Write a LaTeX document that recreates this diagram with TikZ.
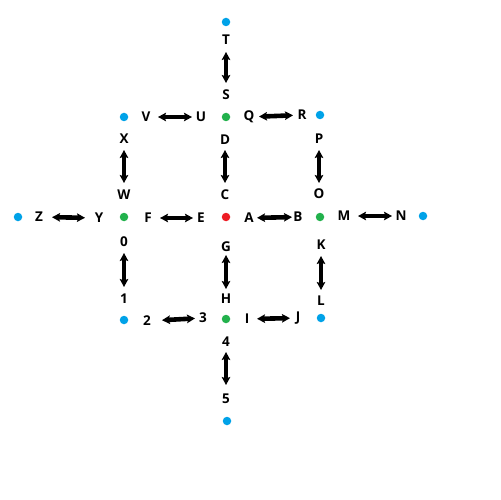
\documentclass[tikz,border=0pt]{standalone}
\usepackage{fontspec}
\setmainfont{Open Sans}
\usetikzlibrary{arrows.meta}
\definecolor{pblue}{RGB}{0,162,232}
\definecolor{pgreen}{RGB}{34,177,76}
\definecolor{pred}{RGB}{237,28,36}
\tikzset{
  dotb/.style={circle,fill=pblue,minimum size=8.5bp,inner sep=0pt},
  dotg/.style={circle,fill=pgreen,minimum size=8.5bp,inner sep=0pt},
  dotr/.style={circle,fill=pred,minimum size=8.5bp,inner sep=0pt},
  lab/.style={inner sep=0pt,font=\fontsize{13.5bp}{14bp}\selectfont\bfseries},
  dar/.style={line width=4.6bp,{Stealth[length=8bp,width=8.5bp,inset=1.5bp]}-{Stealth[length=8bp,width=8.5bp,inset=1.5bp]}},
}
\begin{document}
\begin{tikzpicture}[x=1bp,y=-1bp]
\useasboundingbox (0,0) rectangle (500,500);
% dots
\node[dotr] (c0) at (226,217) {};
\node[dotg] (gN) at (226,117) {};
\node[dotg] (gW) at (124,217) {};
\node[dotg] (gE) at (320,217) {};
\node[dotg] (gS) at (226,319) {};
\node[dotb] (b1) at (226,22) {};
\node[dotb] (b2) at (124,117) {};
\node[dotb] (b3) at (320,115) {};
\node[dotb] (b4) at (18,217) {};
\node[dotb] (b5) at (423,216) {};
\node[dotb] (b6) at (124,320) {};
\node[dotb] (b7) at (321,318) {};
\node[dotb] (b8) at (227,421) {};
% labels
\node[lab] (T) at (226,40) {T};
\node[lab] (S) at (226,95) {S};
\node[lab] (V) at (146,117) {V};
\node[lab] (U) at (201,117) {U};
\node[lab] (Q) at (249,117) {Q};
\node[lab] (R) at (302,115) {R};
\node[lab] (X) at (124,139) {X};
\node[lab] (W) at (124,195) {W};
\node[lab] (D) at (225,140) {D};
\node[lab] (C) at (225,195) {C};
\node[lab] (P) at (319,139) {P};
\node[lab] (O) at (319,194) {O};
\node[lab] (Z) at (39,217) {Z};
\node[lab] (Y) at (99,218) {Y};
\node[lab] (F) at (148,218) {F};
\node[lab] (E) at (201,218) {E};
\node[lab] (A) at (249,218) {A};
\node[lab] (B) at (298,217) {B};
\node[lab] (M) at (344,216) {M};
\node[lab] (N) at (401,216) {N};
\node[lab] (n0) at (124,242) {0};
\node[lab] (n1) at (124,299) {1};
\node[lab] (G) at (226,247) {G};
\node[lab] (H) at (226,299) {H};
\node[lab] (K) at (321,245) {K};
\node[lab] (L) at (321,301) {L};
\node[lab] (n2) at (147,321) {2};
\node[lab] (n3) at (203,318) {3};
\node[lab] (I) at (247,319) {I};
\node[lab] (J) at (298,318) {J};
\node[lab] (n4) at (226,342) {4};
\node[lab] (n5) at (226,399) {5};
% arrows
\draw[dar,shorten <=12bp,shorten >=9bp] (V.center) -- (U.center);
\draw[dar,shorten <=10bp,shorten >=9bp] (Q.center) -- (R.center);
\draw[dar,shorten <=12bp,shorten >=8bp] (F.center) -- (E.center);
\draw[dar,shorten <=13bp,shorten >=14bp] (Z.center) -- (Y.center);
\draw[dar,shorten <=8bp,shorten >=6bp] (A.center) -- (B.center);
\draw[dar,shorten <=14bp,shorten >=9bp] (M.center) -- (N.center);
\draw[dar,shorten <=15bp,shorten >=8bp] (n2.center) -- (n3.center);
\draw[dar,shorten <=10bp,shorten >=8bp] (I.center) -- (J.center);
\draw[dar,shorten <=12bp,shorten >=12bp] (T.center) -- (S.center);
\draw[dar,shorten <=11bp,shorten >=12bp] (X.center) -- (W.center);
\draw[dar,shorten <=10bp,shorten >=12bp] (D.center) -- (C.center);
\draw[dar,shorten <=11bp,shorten >=11bp] (P.center) -- (O.center);
\draw[dar,shorten <=11bp,shorten >=12bp] (n0.center) -- (n1.center);
\draw[dar,shorten <=8bp,shorten >=10bp] (G.center) -- (H.center);
\draw[dar,shorten <=11bp,shorten >=11bp] (K.center) -- (L.center);
\draw[dar,shorten <=10bp,shorten >=14bp] (n4.center) -- (n5.center);
\end{tikzpicture}
\end{document}
